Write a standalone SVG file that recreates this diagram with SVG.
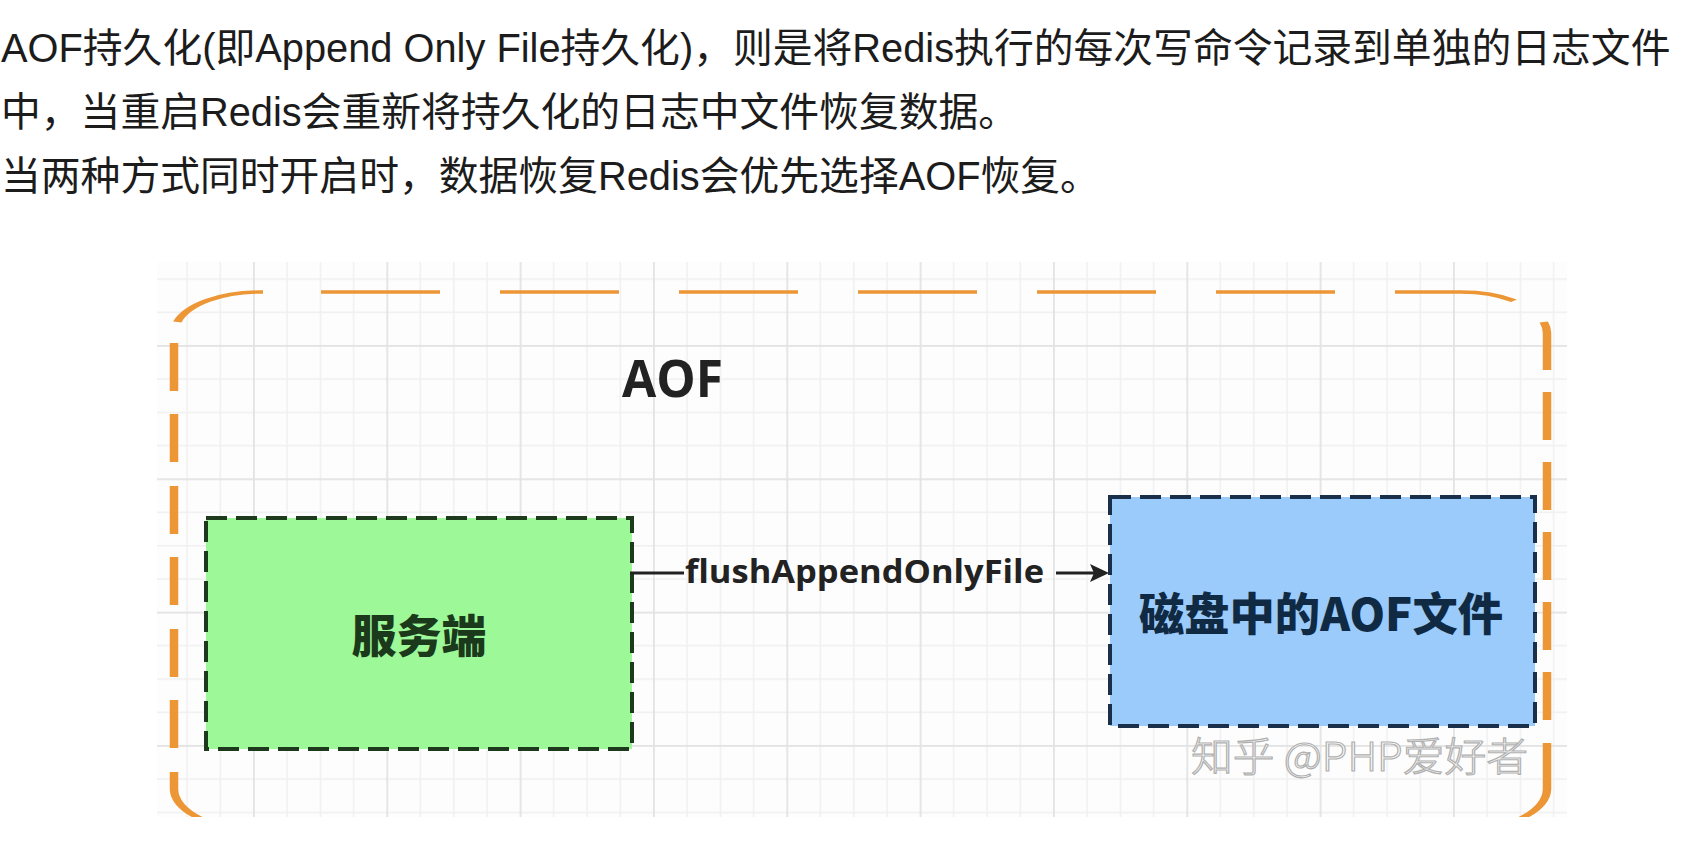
<svg xmlns="http://www.w3.org/2000/svg" width="1704" height="864" viewBox="0 0 1704 864">
<defs>
<style>
.para{font-family:"Liberation Sans","Noto Sans CJK SC",sans-serif;font-size:39.8px;fill:#1c1c1c}
.lbl{font-family:"Open Sans","Noto Sans CJK SC",sans-serif;font-weight:700;fill:#222}
.cn{font-family:"Noto Sans CJK SC",sans-serif;font-weight:900;font-size:45px;text-anchor:middle}
.box{stroke-width:4;stroke-dasharray:21 9}
</style>
<pattern id="grid" patternUnits="userSpaceOnUse" x="119.67" y="78.33" width="133.333" height="133.333">
<rect x="0" y="33.33" width="133.333" height="1.5" fill="#f0f0f0"/>
<rect x="0" y="66.67" width="133.333" height="1.5" fill="#f0f0f0"/>
<rect x="0" y="100" width="133.333" height="1.5" fill="#f0f0f0"/>
<rect x="33.33" y="0" width="1.5" height="133.333" fill="#f0f0f0"/>
<rect x="66.67" y="0" width="1.5" height="133.333" fill="#f0f0f0"/>
<rect x="100" y="0" width="1.5" height="133.333" fill="#f0f0f0"/>
<rect x="0" y="0" width="133.333" height="1.8" fill="#e3e3e3"/>
<rect x="0" y="0" width="1.8" height="133.333" fill="#e3e3e3"/>
</pattern>
<clipPath id="imgclip"><rect x="157" y="262" width="1410" height="555"/></clipPath>
<marker id="arrow" markerUnits="userSpaceOnUse" markerWidth="22" markerHeight="22" refX="10" refY="9" orient="auto">
<path d="M0,0 L19,9 L0,18 L4,9 Z" fill="#222"/>
</marker>
</defs>
<rect width="1704" height="864" fill="#ffffff"/>
<g id="text">
<text class="para" x="1" y="62">AOF持久化(即Append Only File持久化)，则是将Redis执行的每次写命令记录到单独的日志文件</text>
<text class="para" x="1" y="126">中，当重启Redis会重新将持久化的日志中文件恢复数据。</text>
<text class="para" x="1" y="190">当两种方式同时开启时，数据恢复Redis会优先选择AOF恢复。</text>
</g>
<g id="diagram" clip-path="url(#imgclip)">
<rect x="157" y="262" width="1410" height="555" fill="#fdfdfd"/>
<rect x="157" y="262" width="1410" height="555" fill="url(#grid)"/>
<g id="aof-container">
<g transform="matrix(2.5 0 0 1 0 0)">
<path fill="none" stroke="#EC9636" stroke-width="3.4" d="M70.9,322 A34.4,41 0 0 1 104,292 H105.2 M128.4,292 H176 M200,292 H247.6 M271.6,292 H319.2 M343.2,292 H390.8 M414.8,292 H462.4 M486.4,292 H534 M558,292 H584.4 A34.4,41 0 0 1 605.6,300.7 M617.5,322 A34.4,41 0 0 1 618.8,333 V370 M618.8,392 V440 M618.8,462 V510 M618.8,532 V580 M618.8,602 V650 M618.8,672 V720 M618.8,743 V789 A34.4,41 0 0 1 584.4,830 M69.6,343 V391 M69.6,414 V462 M69.6,486 V534 M69.6,557 V605 M69.6,629 V677 M69.6,700 V748 M69.6,772 V789 A34.4,41 0 0 0 104,830"/>
</g>
<text class="lbl" x="622" y="397" font-size="52" textLength="101" lengthAdjust="spacingAndGlyphs">AOF</text>
</g>
<g id="server">
<rect class="box" x="206" y="518" width="426" height="231" fill="#9DF898" stroke="#1d3a1d"/>
<text class="cn" x="419" y="653" fill="#1b3a1b">服务端</text>
</g>
<g id="aof-file">
<rect class="box" x="1110" y="497" width="425" height="229" fill="#9ACBFB" stroke="#1a2f4a"/>
<text class="cn" x="1321" y="631" fill="#102a44" textLength="364" lengthAdjust="spacingAndGlyphs">磁盘中的AOF文件</text>
</g>
<g id="connectors">
<path d="M630,573 H684 M1056,573 H1100" fill="none" stroke="#222" stroke-width="3" marker-end="url(#arrow)"/>
<text class="lbl" x="685" y="583" font-size="32" textLength="359" lengthAdjust="spacingAndGlyphs">flushAppendOnlyFile</text>
</g>
<text x="1191" y="771" font-family="Noto Sans CJK SC, sans-serif" font-size="40" font-weight="300" fill="#ffffff" stroke="#b0b0b0" stroke-width="1.2" textLength="337" lengthAdjust="spacingAndGlyphs">知乎 @PHP爱好者</text>
</g>
</svg>
